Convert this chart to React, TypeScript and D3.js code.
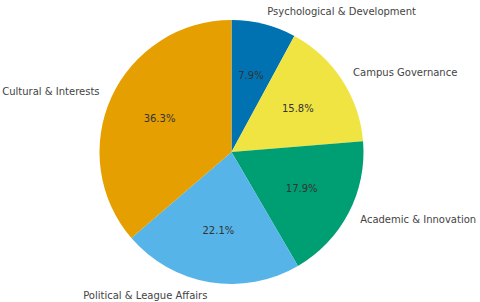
import React from "react";
import * as d3 from "d3";

const categories = [
  "Psychological & Development",
  "Campus Governance",
  "Academic & Innovation",
  "Political & League Affairs",
  "Cultural & Interests",
];
const shares = [7.9, 15.8, 17.9, 22.1, 36.3];
const colors = ["#0072B2", "#F0E442", "#009E73", "#56B4E9", "#E69F00"];

const width = 480;
const height = 302;
const cx = 231.5;
const cy = 152;
const radius = 132;

export default function App() {
  const data = categories.map((name, i) => ({ name, value: shares[i], color: colors[i] }));

  const pie = d3
    .pie<{ name: string; value: number; color: string }>()
    .value((d) => d.value)
    .sort(null);
  const arcs = pie(data);

  const arc = d3
    .arc<d3.PieArcDatum<{ name: string; value: number; color: string }>>()
    .innerRadius(0)
    .outerRadius(radius);

  const total = d3.sum(shares);

  return (
    <svg
      width={width}
      height={height}
      style={{ position: "absolute", left: 0, top: 0, fontFamily: "DejaVu Sans" }}
    >
      <rect width={width} height={height} fill="#ffffff" />
      <g transform={`translate(${cx},${cy})`}>
        {arcs.map((a) => (
          <path key={a.data.name} d={arc(a) || ""} fill={a.data.color} />
        ))}
        {arcs.map((a) => {
          const mid = (a.startAngle + a.endAngle) / 2;
          const px = 0.6 * radius * Math.sin(mid);
          const py = -0.6 * radius * Math.cos(mid);
          return (
            <text
              key={"p" + a.data.name}
              x={px}
              y={py}
              textAnchor="middle"
              dominantBaseline="central"
              fontSize={10}
              fill="#333333"
            >
              {((a.data.value / total) * 100).toFixed(1)}%
            </text>
          );
        })}
        {arcs.map((a) => {
          const mid = (a.startAngle + a.endAngle) / 2;
          const lx = 1.1 * radius * Math.sin(mid);
          const ly = -1.1 * radius * Math.cos(mid);
          return (
            <text
              key={"l" + a.data.name}
              x={lx}
              y={ly}
              textAnchor={lx >= 0 ? "start" : "end"}
              dominantBaseline="central"
              fontSize={10}
              fill="#444444"
            >
              {a.data.name}
            </text>
          );
        })}
      </g>
    </svg>
  );
}
